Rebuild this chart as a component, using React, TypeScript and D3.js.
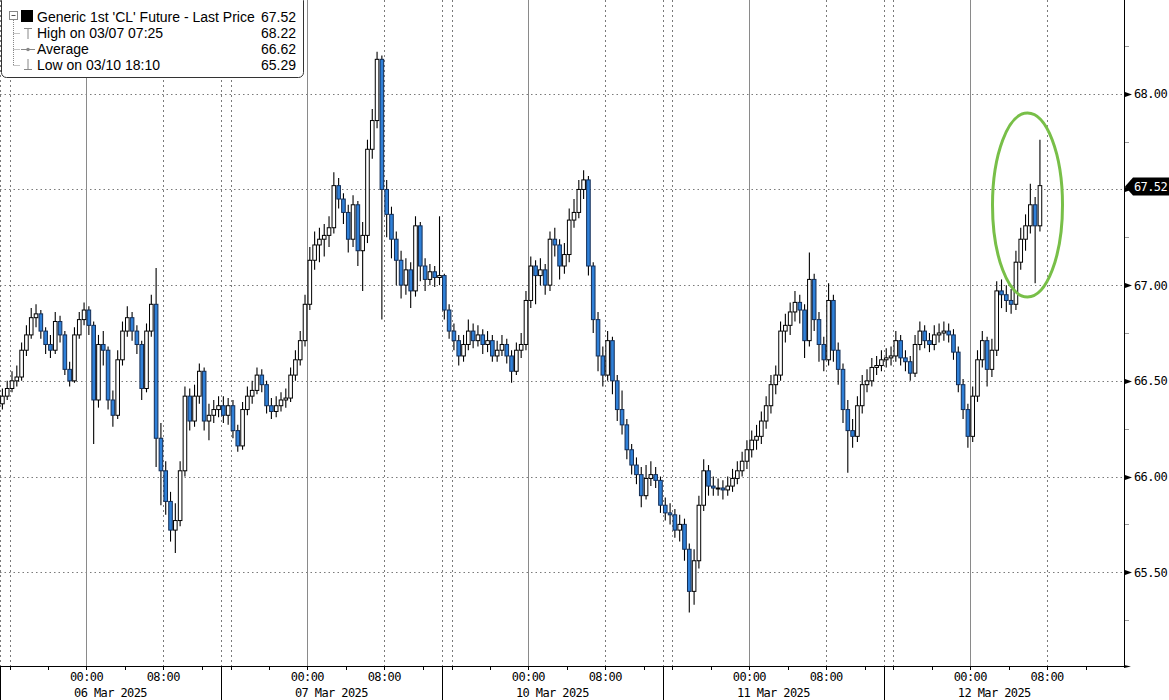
import React, { useEffect, useRef } from 'react';
import * as d3 from 'd3';

// one trading session = 15:00 (prev day) -> 14:00, 30-minute bars
const sessionDates = ['06 Mar 2025', '07 Mar 2025', '10 Mar 2025', '11 Mar 2025', '12 Mar 2025'];
const timeLabels = [
  { hour: 9, text: '00:00' },
  { hour: 17, text: '08:00' },
];
const priceTicks = [65.5, 66.0, 66.5, 67.0, 67.5, 68.0];
const labelledPriceTicks = [65.5, 66.0, 66.5, 67.0, 68.0]; // 67.50 sits under the last-price tag
const minorPriceTicks = [65.25, 65.75, 66.25, 66.75, 67.25, 67.75, 68.25];

const firstOpen = 66.38;
const lastPrice = 67.52;

const closes06 = [66.42, 66.46, 66.5, 66.52, 66.66, 66.74, 66.83, 66.85, 66.76, 66.69, 66.66, 66.81, 66.74, 66.56, 66.5, 66.74, 66.82, 66.87, 66.79, 66.4, 66.69, 66.66, 66.4, 66.32, 66.61, 66.76, 66.83, 66.76, 66.69, 66.46, 66.76, 66.9, 66.2, 66.03, 65.87, 65.72, 65.77, 66.03, 66.42, 66.29, 66.42, 66.55, 66.29, 66.32, 66.35, 66.37];
const highs06 = [66.46, 66.5, 66.55, 66.58, 66.7, 66.79, 66.88, 66.9, 66.87, 66.78, 66.74, 66.86, 66.84, 66.76, 66.6, 66.78, 66.86, 66.91, 66.89, 66.81, 66.74, 66.76, 66.68, 66.45, 66.66, 66.81, 66.89, 66.86, 66.79, 66.71, 66.8, 66.95, 67.09, 66.28, 66.08, 65.92, 65.86, 66.08, 66.47, 66.46, 66.48, 66.59, 66.57, 66.38, 66.4, 66.42];
const lows06 = [66.35, 66.4, 66.44, 66.47, 66.5, 66.63, 66.72, 66.78, 66.72, 66.64, 66.62, 66.64, 66.7, 66.53, 66.47, 66.49, 66.72, 66.79, 66.74, 66.17, 66.36, 66.58, 66.35, 66.26, 66.3, 66.58, 66.73, 66.71, 66.64, 66.4, 66.44, 66.73, 66.05, 65.85, 65.8, 65.66, 65.6, 65.74, 66.0, 66.24, 66.26, 66.38, 66.24, 66.19, 66.28, 66.31];

const closes07 = [66.32, 66.37, 66.24, 66.16, 66.35, 66.42, 66.45, 66.53, 66.48, 66.37, 66.34, 66.37, 66.4, 66.41, 66.53, 66.61, 66.71, 66.9, 67.13, 67.21, 67.24, 67.26, 67.3, 67.52, 67.45, 67.38, 67.24, 67.42, 67.18, 67.26, 67.71, 67.86, 68.18, 67.5, 67.37, 67.24, 67.13, 67.0, 67.08, 66.97, 67.31, 67.1, 67.03, 67.07, 67.04, 67.05];
const highs07 = [66.42, 66.41, 66.4, 66.27, 66.39, 66.47, 66.5, 66.57, 66.56, 66.5, 66.41, 66.42, 66.44, 66.46, 66.57, 66.66, 66.76, 66.95, 67.2, 67.28, 67.3, 67.32, 67.36, 67.59, 67.56, 67.48, 67.42, 67.47, 67.44, 67.33, 67.76, 67.92, 68.22, 68.2, 67.55, 67.41, 67.28, 67.18, 67.14, 67.12, 67.36, 67.33, 67.14, 67.11, 67.1, 67.36];
const lows07 = [66.28, 66.27, 66.2, 66.13, 66.14, 66.32, 66.38, 66.43, 66.44, 66.33, 66.3, 66.31, 66.34, 66.36, 66.39, 66.5, 66.58, 66.68, 66.87, 67.08, 67.12, 67.15, 67.2, 67.27, 67.4, 67.32, 67.17, 67.2, 67.1, 66.97, 67.22, 67.66, 67.82, 66.82, 67.25, 67.14, 67.0, 66.93, 66.95, 66.88, 66.94, 67.02, 66.97, 67.0, 66.99, 67.0];

const closes10 = [66.87, 66.76, 66.71, 66.63, 66.69, 66.76, 66.71, 66.74, 66.69, 66.71, 66.63, 66.66, 66.69, 66.63, 66.55, 66.66, 66.69, 66.92, 67.1, 67.05, 67.08, 67.0, 67.24, 67.21, 67.1, 67.16, 67.34, 67.38, 67.5, 67.55, 67.1, 66.82, 66.63, 66.53, 66.71, 66.5, 66.35, 66.27, 66.14, 66.06, 66.01, 65.9, 65.99, 66.01, 65.98, 65.85];
const highs10 = [67.06, 66.9, 66.8, 66.74, 66.74, 66.82, 66.8, 66.79, 66.77, 66.76, 66.74, 66.71, 66.74, 66.72, 66.66, 66.7, 66.75, 66.97, 67.15, 67.13, 67.14, 67.11, 67.28, 67.3, 67.24, 67.22, 67.4, 67.45, 67.55, 67.6, 67.57, 67.12, 66.86, 66.68, 66.76, 66.73, 66.53, 66.45, 66.3, 66.17, 66.1, 66.05, 66.06, 66.08, 66.05, 66.0];
const lows10 = [66.82, 66.72, 66.66, 66.58, 66.6, 66.66, 66.67, 66.68, 66.64, 66.65, 66.6, 66.6, 66.63, 66.59, 66.49, 66.53, 66.62, 66.66, 66.88, 66.9, 67.0, 66.95, 66.97, 67.15, 67.03, 67.06, 67.12, 67.3, 67.35, 67.45, 67.05, 66.75, 66.55, 66.47, 66.5, 66.43, 66.29, 66.22, 66.09, 66.01, 65.96, 65.84, 65.88, 65.95, 65.94, 65.81];

const closes11 = [65.81, 65.8, 65.72, 65.75, 65.62, 65.4, 65.56, 65.85, 66.03, 65.95, 65.94, 65.94, 65.93, 65.95, 65.99, 66.03, 66.08, 66.14, 66.19, 66.21, 66.29, 66.37, 66.48, 66.53, 66.76, 66.79, 66.86, 66.91, 66.87, 66.71, 67.03, 66.82, 66.69, 66.61, 66.92, 66.66, 66.56, 66.35, 66.24, 66.21, 66.37, 66.48, 66.5, 66.57, 66.58, 66.61];
const highs11 = [65.89, 65.86, 65.83, 65.8, 65.78, 65.65, 65.62, 65.9, 66.09, 66.06, 66.0, 65.99, 65.98, 66.0, 66.04, 66.08, 66.13, 66.19, 66.24, 66.27, 66.34, 66.42, 66.53, 66.58, 66.81, 66.85, 66.91, 66.97, 66.95, 66.9, 67.17, 67.06, 66.86, 66.73, 67.01, 66.95, 66.7, 66.59, 66.4, 66.3, 66.42, 66.53, 66.56, 66.62, 66.63, 66.66];
const lows11 = [65.77, 65.75, 65.68, 65.66, 65.56, 65.29, 65.33, 65.52, 65.82, 65.9, 65.9, 65.9, 65.88, 65.9, 65.92, 65.96, 66.0, 66.04, 66.1, 66.14, 66.17, 66.25, 66.33, 66.43, 66.5, 66.7, 66.74, 66.81, 66.8, 66.62, 66.68, 66.76, 66.6, 66.55, 66.58, 66.6, 66.48, 66.28, 66.02, 66.15, 66.18, 66.33, 66.44, 66.47, 66.53, 66.55];

const closes12 = [66.62, 66.63, 66.71, 66.62, 66.6, 66.54, 66.69, 66.76, 66.71, 66.69, 66.74, 66.75, 66.76, 66.74, 66.65, 66.48, 66.35, 66.21, 66.42, 66.61, 66.71, 66.56, 66.66, 66.97, 66.95, 66.92, 66.9, 67.12, 67.24, 67.31, 67.42, 67.31, 67.52];
const highs12 = [66.67, 66.68, 66.76, 66.74, 66.66, 66.63, 66.74, 66.81, 66.79, 66.75, 66.79, 66.8, 66.81, 66.8, 66.77, 66.68, 66.51, 66.38, 66.47, 66.66, 66.76, 66.73, 66.72, 67.02, 67.03, 67.0, 66.98, 67.18, 67.3, 67.37, 67.53, 67.46, 67.76];
const lows12 = [66.57, 66.58, 66.6, 66.58, 66.55, 66.5, 66.52, 66.66, 66.67, 66.65, 66.66, 66.7, 66.71, 66.7, 66.61, 66.44, 66.3, 66.15, 66.18, 66.39, 66.57, 66.47, 66.52, 66.63, 66.88, 66.86, 66.85, 66.87, 67.08, 67.18, 67.27, 67.01, 67.28];

const legendRows = [
  { label: "Generic 1st 'CL' Future - Last Price", value: '67.52' },
  { label: 'High on 03/07 07:25', value: '68.22' },
  { label: 'Average', value: '66.62' },
  { label: 'Low on 03/10 18:10', value: '65.29' },
];

type Bar = { t: number; o: number; h: number; l: number; c: number };

const W = 1169;
const H = 700;
const SESSION_HOURS = 23;

const App: React.FC = () => {
  const ref = useRef<SVGSVGElement>(null);

  useEffect(() => {
    if (!ref.current) return;
    const svg = d3.select(ref.current);
    svg.selectAll('*').remove();

    const plotW = 1124;
    const plotH = 666;

    const sessions = [
      { closes: closes06, highs: highs06, lows: lows06 },
      { closes: closes07, highs: highs07, lows: lows07 },
      { closes: closes10, highs: highs10, lows: lows10 },
      { closes: closes11, highs: highs11, lows: lows11 },
      { closes: closes12, highs: highs12, lows: lows12 },
    ];
    const bars: Bar[] = [];
    let prev = firstOpen;
    sessions.forEach((s, si) =>
      s.closes.forEach((c, i) => {
        bars.push({ t: si * SESSION_HOURS + i * 0.5 + 0.25, o: prev, h: s.highs[i], l: s.lows[i], c });
        prev = c;
      }),
    );

    const x = d3.scaleLinear().domain([0, 117]).range([0, plotW]);
    const y = d3.scaleLinear().domain([65.01, 68.49]).range([plotH, 0]);

    const mono = "'DejaVu Sans Mono', monospace";
    const sans = "'Liberation Sans', sans-serif";
    const grey = '#7a7a7a';

    // horizontal grid
    svg
      .append('g')
      .selectAll('line')
      .data(priceTicks)
      .enter()
      .append('line')
      .attr('x1', 0)
      .attr('x2', plotW)
      .attr('y1', d => Math.round(y(d)) + 0.5)
      .attr('y2', d => Math.round(y(d)) + 0.5)
      .attr('stroke', grey)
      .attr('stroke-dasharray', '1.5,3');

    // vertical grid per session
    const vg = svg.append('g');
    sessionDates.forEach((_, si) => {
      const s0 = si * SESSION_HOURS;
      [0, 1, 17].forEach(off => {
        const xx = Math.round(x(s0 + off)) + 0.5;
        vg.append('line')
          .attr('x1', xx).attr('x2', xx).attr('y1', 0).attr('y2', plotH)
          .attr('stroke', grey).attr('stroke-dasharray', '2,3');
      });
      const xm = Math.round(x(s0 + 9)) + 0.5;
      vg.append('line')
        .attr('x1', xm).attr('x2', xm).attr('y1', 0).attr('y2', plotH)
        .attr('stroke', '#8a8a8a');
    });

    // candles
    const cg = svg.append('g');
    const bw = 3.6;
    cg.selectAll('line.wick')
      .data(bars)
      .enter()
      .append('line')
      .attr('x1', d => x(d.t))
      .attr('x2', d => x(d.t))
      .attr('y1', d => y(d.h))
      .attr('y2', d => y(d.l))
      .attr('stroke', '#000')
      .attr('stroke-width', 1.1);
    cg.selectAll('rect.body')
      .data(bars)
      .enter()
      .append('rect')
      .attr('x', d => x(d.t) - bw / 2)
      .attr('y', d => y(Math.max(d.o, d.c)))
      .attr('width', bw)
      .attr('height', d => Math.max(1, Math.abs(y(d.o) - y(d.c))))
      .attr('fill', d => (d.c >= d.o ? '#ffffff' : '#2f80d8'))
      .attr('stroke', d => (d.c >= d.o ? '#000' : '#132d55'))
      .attr('stroke-width', 1);

    // axes lines
    svg.append('line')
      .attr('x1', plotW + 0.5).attr('x2', plotW + 0.5).attr('y1', 0).attr('y2', plotH + 1)
      .attr('stroke', '#000');
    svg.append('line')
      .attr('x1', 0).attr('x2', plotW + 1).attr('y1', plotH + 0.5).attr('y2', plotH + 0.5)
      .attr('stroke', '#000');
    svg.append('path')
      .attr('d', `M${plotW},${plotH - 1}L${plotW + 7},${plotH + 0.5}L${plotW},${plotH + 2}Z`)
      .attr('fill', '#000');

    // y axis: markers, minor ticks, labels
    const ya = svg.append('g');
    ya.selectAll('path')
      .data(priceTicks)
      .enter()
      .append('path')
      .attr('d', d => {
        const yy = Math.round(y(d)) + 0.5;
        return `M${plotW + 1},${yy - 2.5}L${plotW + 8},${yy}L${plotW + 1},${yy + 2.5}Z`;
      })
      .attr('fill', '#000');
    ya.selectAll('line')
      .data(minorPriceTicks)
      .enter()
      .append('line')
      .attr('x1', plotW + 1)
      .attr('x2', plotW + 5)
      .attr('y1', d => Math.round(y(d)) + 0.5)
      .attr('y2', d => Math.round(y(d)) + 0.5)
      .attr('stroke', '#999');
    ya.selectAll('text')
      .data(labelledPriceTicks)
      .enter()
      .append('text')
      .attr('x', plotW + 10)
      .attr('y', d => y(d) + 4.5)
      .attr('font-family', mono)
      .attr('font-size', 12)
      .attr('letter-spacing', -0.6)
      .attr('fill', '#000')
      .text(d => d.toFixed(2));

    // last price tag
    const ly = Math.round(y(lastPrice)) + 0.5;
    svg.append('path')
      .attr('d', `M${plotW + 1},${ly}L${plotW + 9},${ly - 9}L${W},${ly - 9}L${W},${ly + 9}L${plotW + 9},${ly + 9}Z`)
      .attr('fill', '#000');
    svg.append('text')
      .attr('x', plotW + 10)
      .attr('y', ly + 4.5)
      .attr('font-family', mono)
      .attr('font-size', 12)
      .attr('letter-spacing', -0.6)
      .attr('fill', '#fff')
      .text(lastPrice.toFixed(2));

    // x axis
    const xa = svg.append('g');
    sessionDates.forEach((date, si) => {
      const s0 = si * SESSION_HOURS;
      const sx = Math.round(x(s0)) + 0.5;
      xa.append('line')
        .attr('x1', sx).attr('x2', sx).attr('y1', plotH).attr('y2', H)
        .attr('stroke', '#000');
      [1, 5, 9, 13, 17, 21].forEach(off => {
        const tx = Math.round(x(s0 + off)) + 0.5;
        xa.append('line')
          .attr('x1', tx).attr('x2', tx).attr('y1', plotH).attr('y2', plotH + 4)
          .attr('stroke', '#000');
      });
      timeLabels.forEach(tl => {
        xa.append('text')
          .attr('x', x(s0 + tl.hour))
          .attr('y', 681)
          .attr('text-anchor', 'middle')
          .attr('font-family', mono)
          .attr('font-size', 12)
          .attr('letter-spacing', -0.6)
          .text(tl.text);
      });
      xa.append('text')
        .attr('x', x(s0 + SESSION_HOURS / 2))
        .attr('y', 697)
        .attr('text-anchor', 'middle')
        .attr('font-family', mono)
        .attr('font-size', 12)
        .attr('letter-spacing', -0.6)
        .text(date);
    });

    // highlight ellipse
    svg.append('ellipse')
      .attr('cx', 1027.5)
      .attr('cy', 205)
      .attr('rx', 35)
      .attr('ry', 92)
      .attr('fill', 'none')
      .attr('stroke', '#78bf48')
      .attr('stroke-width', 3);

    // legend
    const lg = svg.append('g');
    lg.append('rect')
      .attr('x', 1.5).attr('y', -4.5).attr('width', 302).attr('height', 82).attr('rx', 5)
      .attr('fill', '#fff').attr('stroke', '#333');
    lg.append('line')
      .attr('x1', 13.5).attr('x2', 13.5).attr('y1', 20).attr('y2', 66)
      .attr('stroke', '#888').attr('stroke-dasharray', '1,1');
    [33, 49, 65].forEach(yy =>
      lg.append('line')
        .attr('x1', 13.5).attr('x2', 20).attr('y1', yy + 0.5).attr('y2', yy + 0.5)
        .attr('stroke', '#888').attr('stroke-dasharray', '1,1'),
    );
    lg.append('rect')
      .attr('x', 9.5).attr('y', 11.5).attr('width', 8).attr('height', 8)
      .attr('fill', '#fff').attr('stroke', '#888');
    lg.append('line')
      .attr('x1', 11.5).attr('x2', 15.5).attr('y1', 15.5).attr('y2', 15.5).attr('stroke', '#555');
    lg.append('rect').attr('x', 21).attr('y', 10).attr('width', 12).attr('height', 12).attr('fill', '#000');
    lg.append('path').attr('d', 'M24,28.5H32M28,28.5V39').attr('stroke', '#888').attr('fill', 'none');
    lg.append('path').attr('d', 'M21,49.5H35').attr('stroke', '#888');
    lg.append('circle').attr('cx', 28).attr('cy', 49.5).attr('r', 1.8).attr('fill', '#888');
    lg.append('path').attr('d', 'M28,59V69.5M24,69.5H32').attr('stroke', '#888').attr('fill', 'none');

    legendRows.forEach((r, i) => {
      const by = 21.5 + i * 16.3;
      lg.append('text')
        .attr('x', 37).attr('y', by)
        .attr('font-family', sans).attr('font-size', 14)
        .attr('fill', '#000')
        .text(r.label);
      lg.append('text')
        .attr('x', 296).attr('y', by)
        .attr('text-anchor', 'end')
        .attr('font-family', sans).attr('font-size', 14)
        .attr('fill', '#000')
        .text(r.value);
    });
  }, []);

  return (
    <svg
      ref={ref}
      width={W}
      height={H}
      style={{ position: 'absolute', left: 0, top: 0, background: '#fff' }}
    />
  );
};

export default App;
